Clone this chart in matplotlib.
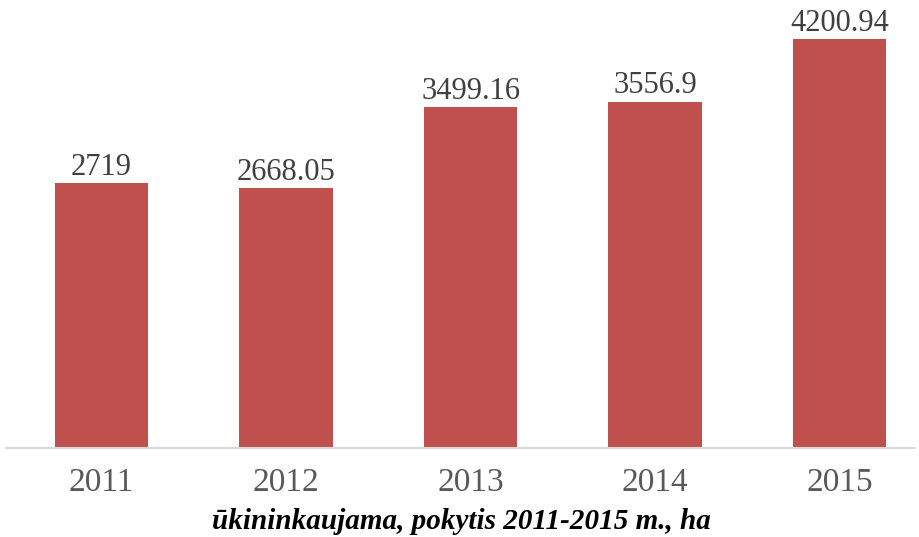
import matplotlib
matplotlib.use("Agg")
import matplotlib.pyplot as plt

years = ["2011", "2012", "2013", "2014", "2015"]
values = [2719, 2668.05, 3499.16, 3556.9, 4200.94]
value_labels = ["2719", "2668.05", "3499.16", "3556.9", "4200.94"]
title = "ūkininkaujama, pokytis 2011-2015 m., ha"

plt.rcParams['font.family'] = ['Liberation Serif', 'DejaVu Serif']

fig = plt.figure(figsize=(9.2, 5.37), dpi=100)
ax = fig.add_axes([6/920, 89/537, 909/920, 438/537])

x = list(range(len(years)))
bars = ax.bar(x, values, width=0.505, color="#C0504D", zorder=2)
ax.set_xlim(-0.518, 4.409)
ax.set_ylim(0, 4500)

for xi, v, lab in zip(x, values, value_labels):
    ax.annotate(lab, (xi, v), xytext=(0, 1), textcoords="offset points",
                ha="center", va="bottom", fontsize=22, color="#404040")

ax.set_xticks(x)
ax.set_xticklabels(years, fontsize=24, color="#595959")
ax.tick_params(axis="x", length=0, pad=14)
ax.set_yticks([])
for s in ["top", "right", "left"]:
    ax.spines[s].set_visible(False)
ax.spines["bottom"].set_color("#D9D9D9")
ax.spines["bottom"].set_linewidth(1.5)

fig.text(461/920, 2/537, title, ha="center", va="bottom",
         fontsize=21, fontweight="bold", fontstyle="italic", color="black")

fig.savefig("out.png", dpi=100)
